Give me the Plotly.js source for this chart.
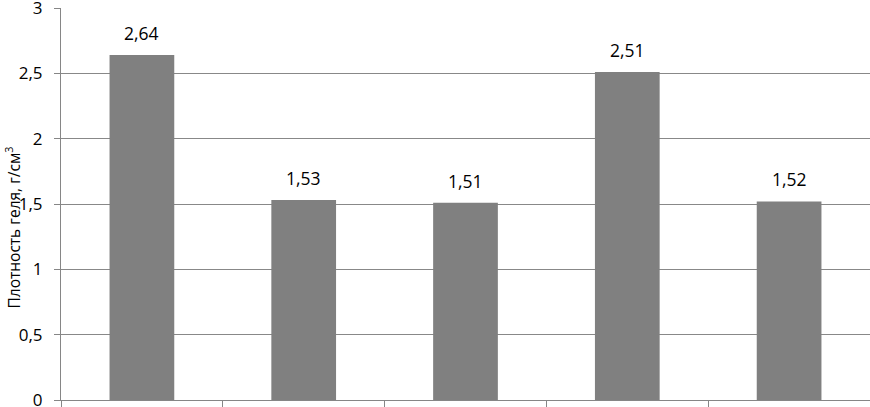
<!DOCTYPE html>
<html>
<head>
<meta charset="utf-8">
<script src="https://cdn.plot.ly/plotly-3.0.1.min.js"></script>
<style>
  html, body { margin: 0; padding: 0; background: #fff; }
  #chart { width: 870px; height: 407px; }
</style>
</head>
<body>
<div id="chart"></div>
<script>
// Density of gel per sample (the reference shows no category labels)
const categories = [0, 1, 2, 3, 4];
const density = [2.64, 1.53, 1.51, 2.51, 1.52];
const yTicks = [0, 0.5, 1, 1.5, 2, 2.5, 3];

const FONT = 'Open Sans, Liberation Sans, sans-serif';
const comma = (v) => String(v).replace('.', ',');

const trace = {
  x: categories,
  y: density,
  type: 'bar',
  width: 0.4,
  marker: { color: '#808080', line: { width: 0 } },
  hoverinfo: 'none',
};

const labels = categories.map((c, i) => ({
  x: c,
  y: density[i],
  yanchor: 'bottom',
  yshift: 8,
  text: comma(density[i]),
  showarrow: false,
  font: { family: FONT, size: 17.5, color: '#000' },
}));

const layout = {
  width: 870,
  height: 407,
  margin: { l: 61, r: 0, t: 8, b: 7 },
  paper_bgcolor: '#fff',
  plot_bgcolor: '#fff',
  showlegend: false,
  font: { family: FONT, size: 17, color: '#000' },
  xaxis: {
    range: [-0.5, 4.5],
    tickvals: [-0.5, 0.5, 1.5, 2.5, 3.5, 4.5],
    showticklabels: false,
    showgrid: false,
    showline: true,
    linecolor: '#868686',
    linewidth: 1,
    ticks: 'outside',
    ticklen: 7,
    tickcolor: '#868686',
    zeroline: false,
  },
  yaxis: {
    range: [0, 3],
    tickvals: yTicks,
    ticktext: yTicks.map(comma),
    ticklabeloverflow: 'allow',
    ticklabelstandoff: 8,
    showgrid: true,
    gridcolor: '#888888',
    showline: true,
    linecolor: '#868686',
    ticks: 'outside',
    ticklen: 6,
    tickcolor: '#868686',
    zeroline: false,
    tickfont: { family: FONT, size: 17, color: '#000' },
  },
  annotations: labels.concat([{
    xref: 'paper',
    yref: 'paper',
    x: 0,
    xanchor: 'center',
    xshift: -48,
    y: 0.44,
    yanchor: 'middle',
    textangle: -90,
    text: 'Плотность геля, г/см<sup>3</sup>',
    showarrow: false,
    font: { family: FONT, size: 15.5, color: '#000' },
  }]),
};

Plotly.newPlot('chart', [trace], layout, { staticPlot: true });
</script>
</body>
</html>
